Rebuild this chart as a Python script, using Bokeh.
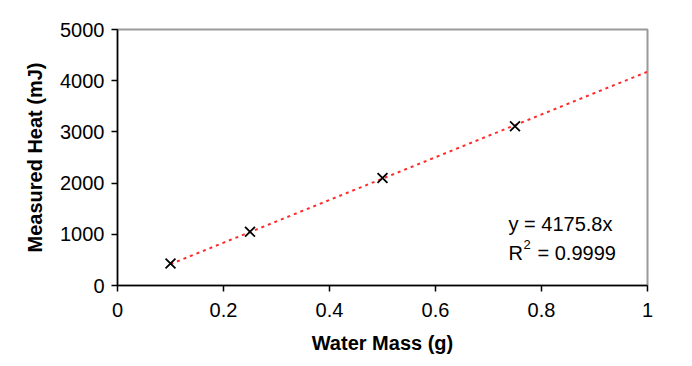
from bokeh.plotting import figure
from bokeh.models import Range1d, FixedTicker, Label
from bokeh.embed import file_html
from bokeh.resources import INLINE

# data
water_mass = [0.1, 0.25, 0.5, 0.75]
measured_heat = [430, 1050, 2100, 3110]
slope = 4175.8
r_squared = 0.9999
fit_x = [0.1, 1.0]
fit_y = [slope * v for v in fit_x]

x_ticks = [0, 0.2, 0.4, 0.6, 0.8, 1]
x_tick_labels = ["0", "0.2", "0.4", "0.6", "0.8", "1"]
y_ticks = [0, 1000, 2000, 3000, 4000, 5000]
y_tick_labels = ["0", "1000", "2000", "3000", "4000", "5000"]

FONT = "Liberation Sans"

p = figure(width=676, height=362, output_backend="svg", toolbar_location=None,
           x_range=Range1d(0, 1), y_range=Range1d(0, 5000),
           min_border_left=117, min_border_right=29, min_border_top=29, min_border_bottom=77)

p.background_fill_color = "white"
p.border_fill_color = "white"
p.outline_line_color = "#9a9a9a"
p.outline_line_width = 2
p.xgrid.visible = False
p.ygrid.visible = False

# trend line
p.line(fit_x, fit_y, line_color="#ff2a2a", line_width=2, line_dash="3 4")
# data points
p.scatter(water_mass, measured_heat, marker="x", size=14, line_color="black", line_width=1.8)

for ax, ticks, labels in ((p.xaxis[0], x_ticks, x_tick_labels), (p.yaxis[0], y_ticks, y_tick_labels)):
    ax.ticker = FixedTicker(ticks=ticks)
    ax.major_label_overrides = {t: l for t, l in zip(ticks, labels)}
    ax.minor_tick_line_color = None
    ax.major_tick_in = 0
    ax.major_tick_out = 6
    ax.major_tick_line_color = "black"
    ax.major_tick_line_width = 1.5
    ax.axis_line_color = "black"
    ax.axis_line_width = 1.5
    ax.major_label_text_font = FONT
    ax.major_label_text_font_size = "20px"
    ax.major_label_text_color = "black"
    ax.axis_label_text_font = FONT
    ax.axis_label_text_font_size = "20px"
    ax.axis_label_text_font_style = "bold"
    ax.axis_label_text_color = "black"

p.xaxis.axis_label = "Water Mass (g)"
p.yaxis.axis_label = "Measured Heat (mJ)"
p.xaxis.major_label_standoff = 11
p.yaxis.major_label_standoff = 7
p.xaxis.axis_label_standoff = 12
p.yaxis.axis_label_standoff = 11

eq_text = "y = %.1fx" % slope
r2_text = "= %.4f" % r_squared
common = dict(x_units="screen", y_units="screen", text_font=FONT, text_color="black",
              text_baseline="alphabetic")
p.add_layout(Label(x=391, y=62, text=eq_text, text_font_size="20px", **common))
p.add_layout(Label(x=391, y=33, text="R", text_font_size="20px", **common))
p.add_layout(Label(x=406, y=41, text="2", text_font_size="13px", **common))
p.add_layout(Label(x=420, y=33, text=r2_text, text_font_size="20px", **common))

open("out.html", "w").write(file_html(p, INLINE))
